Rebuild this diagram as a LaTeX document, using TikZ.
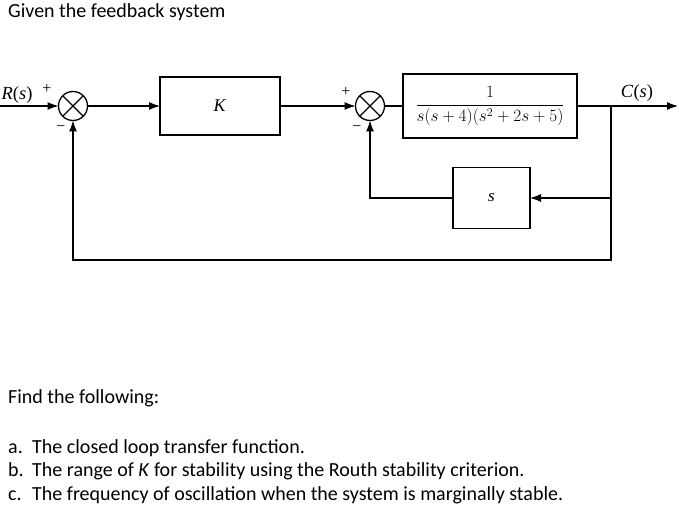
\documentclass[tikz,border=0pt]{standalone}
\usepackage{fontspec}
\setmainfont{Carlito}
\newfontfamily\tms{Liberation Serif}
\usetikzlibrary{arrows.meta}
\begin{document}
\begin{tikzpicture}[x=1pt,y=-1pt,
  blk/.style={draw,line width=1.5pt,inner sep=0pt,outer sep=0pt},
  sumj/.style={draw,circle,line width=1.3pt,minimum size=29pt,inner sep=0pt,outer sep=0pt},
  wire/.style={line width=1.1pt},
  arr/.style={wire,-{Latex[length=11pt,width=8pt]}},
  txt/.style={anchor=base west,inner sep=0pt,font=\fontsize{20}{24}\selectfont},
  lbl/.style={inner sep=0pt,font=\tms\fontsize{18.5}{18.5}\selectfont},
  sgn/.style={inner sep=0pt,font=\tms\fontsize{16}{16}\selectfont}]
\useasboundingbox (0,0) rectangle (679,510);

\node[txt] (t1) at (8,17.3) {Given the feedback system};

\node[sumj] (j1) at (73,106) {};
\draw[line width=1.3pt] (j1.45) -- (j1.225) (j1.135) -- (j1.315);
\node[blk,minimum width=120pt,minimum height=58pt] (K) at (220,106) {\tms\fontsize{18}{18}\selectfont\textit{K}};
\node[sumj] (j2) at (370,106) {};
\draw[line width=1.3pt] (j2.45) -- (j2.225) (j2.135) -- (j2.315);
\node[blk,minimum width=174pt,minimum height=64pt] (G) at (490,106) {\fontsize{18}{18}\selectfont$\displaystyle\frac{1}{s(s+4)(s^2+2s+5)}$};
\node[blk,minimum width=77pt,minimum height=61pt] (H) at (491.5,198) {\tms\fontsize{17}{17}\selectfont\textit{s}};

\coordinate (in) at (0,106);
\coordinate (out) at (678,106);
\coordinate (tp) at (611,106);
\coordinate (tph) at (611,198);
\coordinate (bl) at (73,260);

\draw[arr] (in) -- (j1.west);
\draw[arr] (j1.east) -- (K.west);
\draw[arr] (K.east) -- (j2.west);
\draw[wire] (j2.east) -- (G.west);
\draw[arr] (G.east) -- (out);
\draw[arr] (tp) |- (bl) -- (j1.south);
\draw[arr] (tph) -- (H.east);
\draw[arr] (H.west) -| (j2.south);

\node[lbl] (R) at (17,95) {\textit{R}(\textit{s})};
\node[lbl] (C) at (637,93) {\textit{C}(\textit{s})};
\node[sgn] (p1) at (47,89) {+};
\node[sgn] (m1) at (61,129) {−};
\node[sgn] (p2) at (346,92) {+};
\node[sgn] (m2) at (357,129) {−};

\node[txt] (f) at (8,403) {Find the following:};
\node[txt] (a1) at (8,453) {a.};
\node[txt] (a2) at (32,453) {The closed loop transfer function.};
\node[txt] (b1) at (8,476.5) {b.};
\node[txt] (b2) at (32,476.5) {The range of \textit{K} for stability using the Routh stability criterion.};
\node[txt] (c1) at (8,500) {c.};
\node[txt] (c2) at (32,500) {The frequency of oscillation when the system is marginally stable.};
\end{tikzpicture}
\end{document}
